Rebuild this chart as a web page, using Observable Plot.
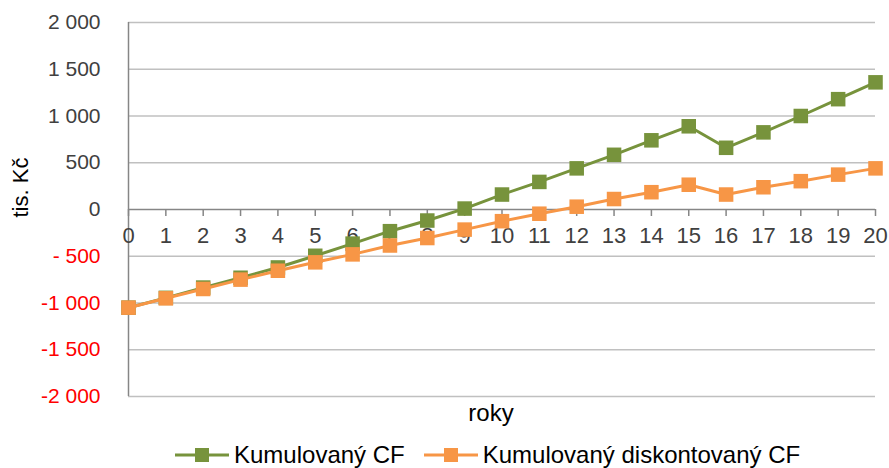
<!DOCTYPE html>
<html>
<head>
<meta charset="utf-8">
<script src="https://cdn.jsdelivr.net/npm/d3@7"></script>
<script src="https://cdn.jsdelivr.net/npm/@observablehq/plot@0.6"></script>
<style>
  html, body { margin: 0; padding: 0; background: #fff; overflow: hidden; }
  body { width: 889px; height: 468px; font-family: "Liberation Sans", Arial, sans-serif; }
  #chart svg { display: block; }
  #legend { display: flex; align-items: center; height: 30px; padding-left: 175px; margin-top: 8px; font-size: 24px; line-height: 28px; color: #000; }
  .item { display: flex; align-items: center; }
  .item svg { margin-right: 5px; }
  .item + .item { margin-left: 19px; }
</style>
</head>
<body>
<div id="chart"></div>
<div id="legend"></div>
<script>
// ---- data ----
const years = [0, 1, 2, 3, 4, 5, 6, 7, 8, 9, 10, 11, 12, 13, 14, 15, 16, 17, 18, 19, 20];
const cumCF = [-1050, -945, -835, -730, -620, -495, -365, -232, -118, 10, 160, 295, 440, 585, 740, 890, 660, 825, 1000, 1180, 1360];
const cumDiscCF = [-1050, -950, -850, -750, -655, -565, -480, -385, -305, -215, -125, -45, 30, 112, 185, 265, 160, 238, 303, 373, 440];
const seriesNames = ["Kumulovaný CF", "Kumulovaný diskontovaný CF"];
const seriesColors = ["#77933C", "#F79646"];
const yTicks = [-2000, -1500, -1000, -500, 0, 500, 1000, 1500, 2000];
const yTickLabels = ["-2 000", "-1 500", "-1 000", "- 500", "0", "500", "1 000", "1 500", "2 000"];
const xTitle = "roky";
const yTitle = "tis. Kč";

const yAxis = yTicks.map((v, i) => ({v, label: yTickLabels[i]}));
const seriesData = [cumCF, cumDiscCF];

const axisColor = "#868686";
const gridColor = "#c0c0c0";

const marks = [
  Plot.ruleY(yTicks.filter(d => d !== 0), {y: d => d, stroke: gridColor, strokeWidth: 1.3}),
  Plot.ruleX([0], {x: d => d, stroke: axisColor, strokeWidth: 1.5}),
  Plot.ruleY([0], {y: d => d, stroke: axisColor, strokeWidth: 1.5}),
  Plot.ruleX(years, {x: d => d, y1: 0, y2: 0, insetBottom: -7, stroke: axisColor, strokeWidth: 1.5}),
  Plot.text(yAxis.filter(d => d.v >= 0), {y: "v", text: "label", frameAnchor: "left", dx: -28, textAnchor: "end", fill: "#404040", fontSize: 21}),
  Plot.text(yAxis.filter(d => d.v < 0), {y: "v", text: "label", frameAnchor: "left", dx: -28, textAnchor: "end", fill: "#ff0000", fontSize: 21}),
  Plot.text(years, {x: d => d, y: 0, dy: 26, text: d => String(d), fill: "#404040", fontSize: 22}),
  Plot.text([xTitle], {frameAnchor: "bottom", dx: -11, dy: 24, text: d => d, fill: "#000", fontSize: 24}),
  Plot.text([yTitle], {frameAnchor: "left", dx: -108, dy: 8, rotate: -90, text: d => d, fill: "#000", fontSize: 22})
];
seriesData.forEach((vals, s) => {
  marks.push(Plot.line(years, {x: d => d, y: (d, i) => vals[i], stroke: seriesColors[s], strokeWidth: 3}));
  marks.push(Plot.dot(years, {x: d => d, y: (d, i) => vals[i], symbol: "square", r: 8.2, fill: seriesColors[s], stroke: "none"}));
});

const chart = Plot.plot({
  width: 889,
  height: 432,
  marginTop: 22,
  marginBottom: 36,
  marginLeft: 128,
  marginRight: 14,
  x: {domain: [0, 20], axis: null},
  y: {domain: [-2000, 2000], axis: null},
  style: {fontFamily: "'Liberation Sans', Arial, sans-serif", background: "#fff", overflow: "visible"},
  marks
});
document.getElementById("chart").appendChild(chart);

// legend
const legend = document.getElementById("legend");
seriesNames.forEach((name, s) => {
  const item = document.createElement("div");
  item.className = "item";
  item.innerHTML = `<svg width="54" height="20"><line x1="0" y1="10" x2="54" y2="10" stroke="${seriesColors[s]}" stroke-width="3"/><rect x="20" y="3" width="14" height="14" fill="${seriesColors[s]}"/></svg><span>${name}</span>`;
  legend.appendChild(item);
});
</script>
</body>
</html>
